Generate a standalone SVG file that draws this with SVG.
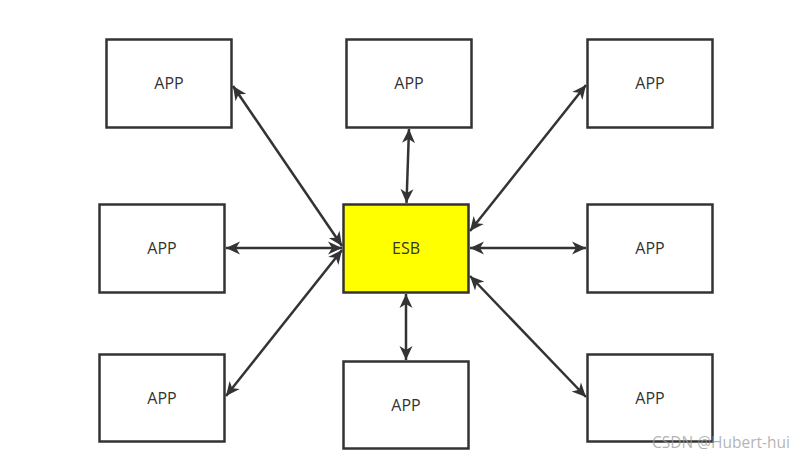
<svg xmlns="http://www.w3.org/2000/svg" width="801" height="459" viewBox="0 0 801 459">
<style>
.box{fill:#ffffff;stroke:#333333;stroke-width:2.5}
.esb{fill:#ffff00;stroke:#333333;stroke-width:2.5}
.lbl{font-family:"Open Sans","Noto Sans","DejaVu Sans",sans-serif;font-size:16px;fill:#333333;text-anchor:middle;dominant-baseline:central}
.conn{stroke:#333333;stroke-width:2.5;fill:none;marker-start:url(#arr);marker-end:url(#arr)}
.wm{font-family:"Open Sans","Noto Sans","DejaVu Sans",sans-serif;font-size:15.5px;fill:#9a9a9a;fill-opacity:0.75}
</style>
<defs>
<marker id="arr" markerUnits="userSpaceOnUse" markerWidth="17" markerHeight="14" refX="14" refY="6.5" orient="auto-start-reverse" viewBox="0 0 17 13">
<path d="M0,0 L14,6.5 L0,13 L4,6.5 z" fill="#333333"/>
</marker>
</defs>
<g id="connectors">
<line class="conn" x1="233" y1="86" x2="342" y2="246"/>
<line class="conn" x1="409" y1="129" x2="406.5" y2="203"/>
<line class="conn" x1="586" y1="85" x2="470" y2="231"/>
<line class="conn" x1="226" y1="248" x2="342" y2="248"/>
<line class="conn" x1="470" y1="248" x2="586" y2="248"/>
<line class="conn" x1="226" y1="396" x2="342" y2="250"/>
<line class="conn" x1="470" y1="276" x2="586" y2="397"/>
<line class="conn" x1="406" y1="294" x2="406" y2="360"/>
</g>
<g id="app-top-left"><rect class="box" x="106.5" y="39.5" width="125" height="88"/><text class="lbl" x="169" y="83">APP</text></g>
<g id="app-top-middle"><rect class="box" x="346.5" y="39.5" width="125" height="88"/><text class="lbl" x="409" y="83">APP</text></g>
<g id="app-top-right"><rect class="box" x="587.5" y="39.5" width="125" height="88"/><text class="lbl" x="650" y="83">APP</text></g>
<g id="app-mid-left"><rect class="box" x="99.5" y="204.5" width="125" height="88"/><text class="lbl" x="162" y="248">APP</text></g>
<g id="esb"><rect class="esb" x="343.5" y="204.5" width="125" height="88"/><text class="lbl" x="406" y="248">ESB</text></g>
<g id="app-mid-right"><rect class="box" x="587.5" y="204.5" width="125" height="88"/><text class="lbl" x="650" y="248">APP</text></g>
<g id="app-bottom-left"><rect class="box" x="99.5" y="354.5" width="125" height="87"/><text class="lbl" x="162" y="397.5">APP</text></g>
<g id="app-bottom-middle"><rect class="box" x="343.5" y="361.5" width="125" height="87"/><text class="lbl" x="406" y="404.5">APP</text></g>
<g id="app-bottom-right"><rect class="box" x="587.5" y="354.5" width="125" height="87"/><text class="lbl" x="650" y="397.5">APP</text></g>
<text class="wm" x="652" y="448">CSDN @Hubert-hui</text>
</svg>
